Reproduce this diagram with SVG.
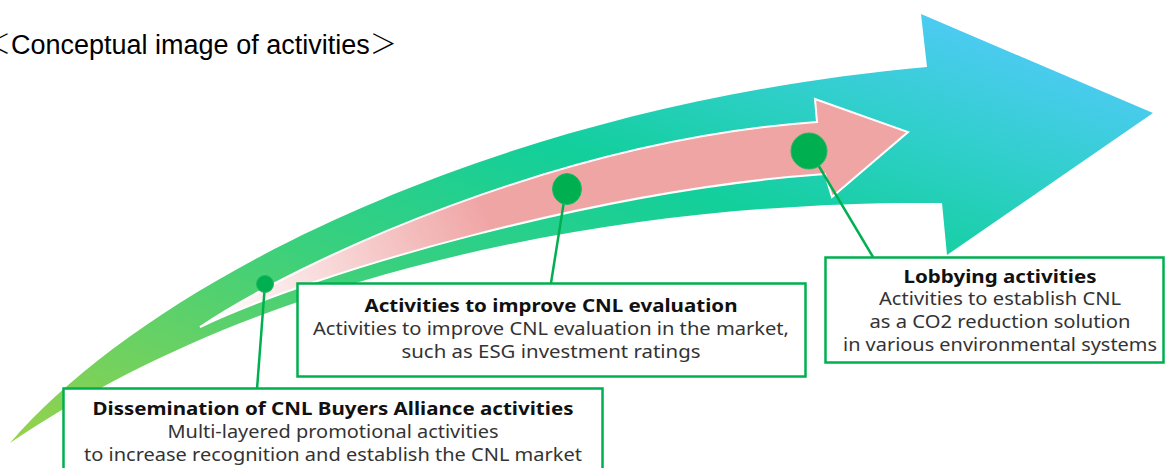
<svg xmlns="http://www.w3.org/2000/svg" width="1166" height="468" viewBox="0 0 1166 468">
<defs>
<linearGradient id="gBig" gradientUnits="userSpaceOnUse" x1="-136" y1="392" x2="92" y2="-266">
<stop offset="0" stop-color="#97d24b"/>
<stop offset="0.4" stop-color="#3bd07c"/>
<stop offset="0.66" stop-color="#12cf9b"/>
<stop offset="0.86" stop-color="#32cfce"/>
<stop offset="1" stop-color="#4acbef"/>
</linearGradient>
<linearGradient id="gPink" gradientUnits="userSpaceOnUse" x1="215" y1="320" x2="480" y2="200">
<stop offset="0" stop-color="#ffffff"/>
<stop offset="1" stop-color="#f0a5a5"/>
</linearGradient>
<style>
.box{fill:#ffffff;stroke:#00b050;stroke-width:2.5}
.dot{fill:#00b050;stroke:#22b862;stroke-width:1}
.conn line{stroke:#00b050;stroke-width:2.5}
.t{font-family:"Noto Sans","Open Sans",sans-serif;font-size:18px;fill:#333333;text-anchor:middle}
.b{font-weight:bold;fill:#111111}
.title{font-family:"Liberation Sans",Arial,sans-serif;font-size:27px;fill:#000000}
.cjk{font-family:"Noto Sans CJK JP","Noto Sans CJK SC",sans-serif;font-weight:300}
</style>
</defs>
<rect width="1166" height="468" fill="#ffffff"/>
<text class="title" x="-16" y="54"><tspan class="cjk">＜</tspan>Conceptual image of activities<tspan class="cjk">＞</tspan></text>
<g id="big-arrow">
<path fill="url(#gBig)" d="M10,443 C150,280 500,105 927,67 L921,14 L1153,113 L947,255 L942,203 C650,200 280,260 10,443 Z"/>
</g>
<g id="pink-arrow">
<path fill="url(#gPink)" stroke="#ffffff" stroke-width="2" stroke-linejoin="miter" d="M200,327 C300,260 560,140 817,122 L815,99 L908,132 L832,197 L825,174 C600,190 320,270 200,327 Z"/>
</g>
<g id="connectors" class="conn">
<line x1="265" y1="284" x2="257" y2="389"/>
<line x1="565" y1="195" x2="551" y2="283"/>
<line x1="814" y1="158" x2="873" y2="257"/>
</g>
<g id="dot1"><circle class="dot" cx="265" cy="284" r="8.5"/></g>
<g id="dot2"><ellipse class="dot" cx="567" cy="189" rx="14.5" ry="15.5"/></g>
<g id="dot3"><circle class="dot" cx="809" cy="151" r="18"/></g>
<g id="box-dissemination">
<rect class="box" x="63.5" y="388.5" width="539" height="95"/>
<text class="t b" x="333" y="415" textLength="481" lengthAdjust="spacingAndGlyphs">Dissemination of CNL Buyers Alliance activities</text>
<text class="t" x="333" y="438" textLength="331" lengthAdjust="spacingAndGlyphs">Multi-layered promotional activities</text>
<text class="t" x="333" y="461" textLength="498" lengthAdjust="spacingAndGlyphs">to increase recognition and establish the CNL market</text>
</g>
<g id="box-evaluation">
<rect class="box" x="297.5" y="283.5" width="508" height="93"/>
<text class="t b" x="551" y="312" textLength="373" lengthAdjust="spacingAndGlyphs">Activities to improve CNL evaluation</text>
<text class="t" x="551" y="335" textLength="476" lengthAdjust="spacingAndGlyphs">Activities to improve CNL evaluation in the market,</text>
<text class="t" x="551" y="358" textLength="299" lengthAdjust="spacingAndGlyphs">such as ESG investment ratings</text>
</g>
<g id="box-lobbying">
<rect class="box" x="825.5" y="257.5" width="338" height="105"/>
<text class="t b" x="1000" y="283" textLength="193" lengthAdjust="spacingAndGlyphs">Lobbying activities</text>
<text class="t" x="1000" y="305" textLength="242" lengthAdjust="spacingAndGlyphs">Activities to establish CNL</text>
<text class="t" x="1000" y="328" textLength="261" lengthAdjust="spacingAndGlyphs">as a CO2 reduction solution</text>
<text class="t" x="1000" y="351" textLength="314" lengthAdjust="spacingAndGlyphs">in various environmental systems</text>
</g>
</svg>
